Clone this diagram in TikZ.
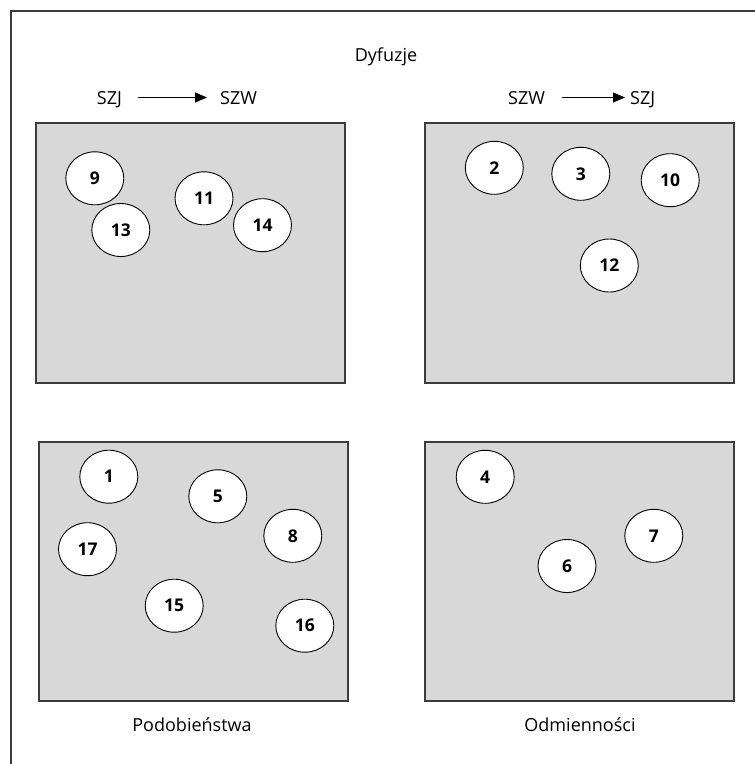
\documentclass[tikz,border=0pt]{standalone}
\usepackage{fontspec}
\setmainfont{Open Sans}
\usetikzlibrary{shapes.geometric,arrows.meta}
\definecolor{panelgray}{HTML}{D8D8D8}
\definecolor{framegray}{HTML}{3C3C3C}
\tikzset{
  frameline/.style={draw=framegray,line width=1.4pt},
  panel/.style={draw=framegray,line width=1.6pt,fill=panelgray,minimum width=309pt,inner sep=0pt},
  item/.style={ellipse,draw=black,line width=0.9pt,fill=white,minimum width=58pt,minimum height=53pt,inner sep=0pt,font=\fontsize{17.5}{17.5}\selectfont\bfseries},
  label/.style={inner sep=0pt,anchor=base west,font=\fontsize{18}{18}\selectfont},
  caption/.style={inner sep=0pt,anchor=base,font=\fontsize{18}{18}\selectfont},
  arr/.style={line width=0.9pt,-{Triangle[length=12pt,width=10pt]}}
}
\begin{document}
\begin{tikzpicture}[x=1pt,y=-1pt]
\useasboundingbox (0,0) rectangle (755,764);
\clip (0,0) rectangle (755,764);
% outer frame, running past the page on the right and bottom
\draw[frameline] (11,11) rectangle (800,800);

% title and direction labels
\node[caption] (title) at (386,61) {Dyfuzje};
\node[label] (szjA) at (96.7,104) {SZJ};
\node[label] (szwA) at (220,104) {SZW};
\node[label] (szwB) at (508,104) {SZW};
\node[label] (szjB) at (630,104) {SZJ};
% arrows sit at half the capital height, level on both ends
\draw[arr,shorten <=16pt,shorten >=13pt]
  ([yshift=6.5pt]szjA.base east) -- ([yshift=6.5pt]szwA.base west);
\draw[arr,shorten <=17pt,shorten >=5pt]
  ([yshift=6.5pt]szwB.base east) -- ([yshift=6.5pt]szjB.base west);

% the four panels
\node[panel,minimum height=260pt] (p1) at (190.5,253) {};
\node[panel,minimum height=260pt] (p2) at (579.5,253) {};
\node[panel,minimum height=259pt] (p3) at (193.5,571.5) {};
\node[panel,minimum height=259pt] (p4) at (579.5,571.5) {};

% panel 1
\node[item] (n9)  at (94.8,178.3) {9};
\node[item] (n13) at (120.8,230) {13};
\node[item] (n11) at (204,198.3) {11};
\node[item] (n14) at (262.5,225.2) {14};

% panel 2
\node[item] (n2)  at (494.3,167.8) {2};
\node[item] (n3)  at (580.8,173.8) {3};
\node[item] (n10) at (670.2,180.2) {10};
\node[item] (n12) at (609.3,265.5) {12};

% panel 3
\node[item] (n1)  at (108.8,476.7) {1};
\node[item] (n5)  at (217.8,496.3) {5};
\node[item] (n8)  at (292.8,535.8) {8};
\node[item] (n17) at (87.5,549.2) {17};
\node[item] (n15) at (174.2,605.7) {15};
\node[item] (n16) at (304.8,625.7) {16};

% panel 4
\node[item] (n4) at (485.2,476.8) {4};
\node[item] (n7) at (653.8,535.8) {7};
\node[item] (n6) at (567,566) {6};

% captions
\node[caption] (capA) at (192,731.5) {Podobieństwa};
\node[caption] (capB) at (580,731.5) {Odmienności};
\end{tikzpicture}
\end{document}
